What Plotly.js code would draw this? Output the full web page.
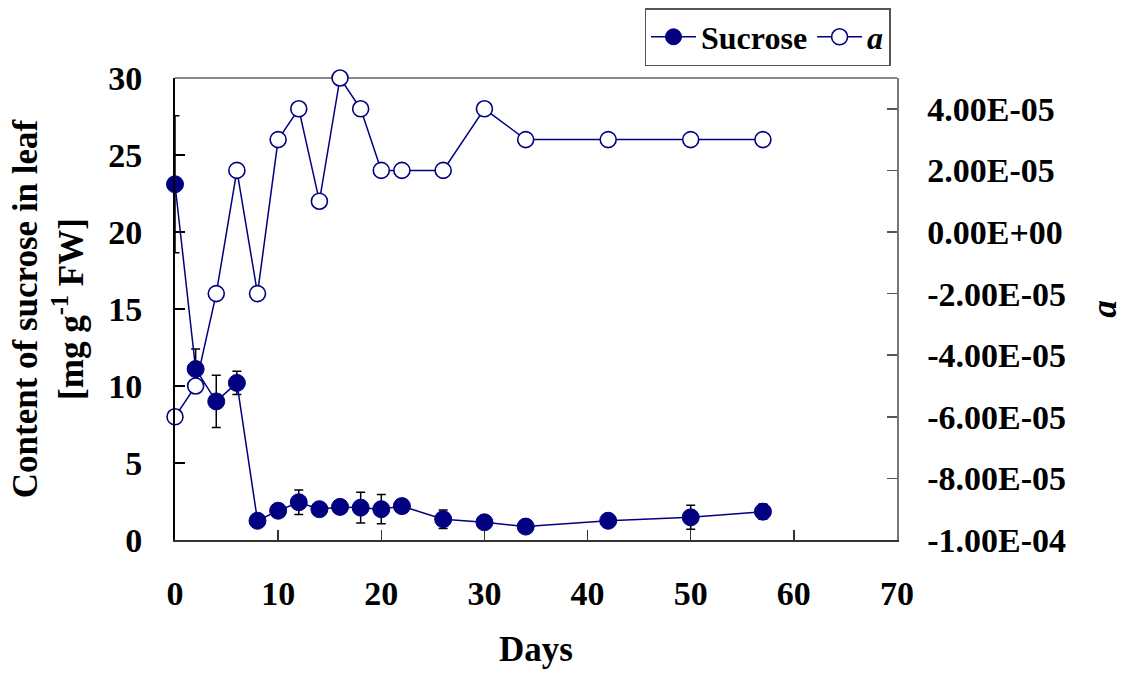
<!DOCTYPE html>
<html>
<head>
<meta charset="utf-8">
<script src="https://cdn.plot.ly/plotly-3.0.1.min.js"></script>
<style>html,body{margin:0;padding:0;background:#fff;}#chart{width:1131px;height:675px;}</style>
</head>
<body>
<div id="chart"></div>
<script>
// Data
const days = [0, 2, 4, 6, 8, 10, 12, 14, 16, 18, 20, 22, 26, 30, 34, 42, 50, 57];
const sucrose = [23.1, 11.1, 9.0, 10.2, 1.25, 1.9, 2.45, 2.0, 2.15, 2.1, 2.0, 2.2, 1.35, 1.15, 0.87, 1.25, 1.47, 1.84];
const sucroseErr = [4.45, 1.3, 1.7, 0.75, 0, 0, 0.8, 0, 0.35, 1.0, 0.95, 0, 0.6, 0, 0, 0, 0.78, 0.5];
const aValues = [-6e-5, -5e-5, -2e-5, 2e-5, -2e-5, 3e-5, 4e-5, 1e-5, 5e-5, 4e-5, 2e-5, 2e-5, 2e-5, 4e-5, 3e-5, 3e-5, 3e-5, 3e-5];
const rightTickVals = [-1e-4, -8e-5, -6e-5, -4e-5, -2e-5, 0, 2e-5, 4e-5];
const rightTickText = ['-1.00E-04', '-8.00E-05', '-6.00E-05', '-4.00E-05', '-2.00E-05', '0.00E+00', '2.00E-05', '4.00E-05'];

const navy = '#000080';
const fontFam = '"Liberation Serif", "Times New Roman", Times, serif';

const traces = [
  {
    x: days, y: sucrose, name: 'Sucrose', type: 'scatter', mode: 'lines+markers',
    line: {color: navy, width: 1.5},
    marker: {color: navy, size: 17, line: {color: navy, width: 1}},
    error_y: {type: 'data', array: sucroseErr, visible: true, color: '#000', thickness: 1.5, width: 4.5},
    xaxis: 'x', yaxis: 'y', cliponaxis: false
  },
  {
    x: days, y: aValues, name: '<i>a</i>', type: 'scatter', mode: 'lines+markers',
    line: {color: navy, width: 1.5},
    marker: {color: '#fff', size: 16, line: {color: navy, width: 1.6}},
    xaxis: 'x', yaxis: 'y2', cliponaxis: false
  }
];

const tickFont = {family: fontFam, size: 34, color: '#000', weight: 'bold'};
const titleFont = {family: fontFam, size: 35, color: '#000', weight: 'bold'};

const layout = {
  width: 1131, height: 675,
  margin: {l: 175, r: 234, t: 78, b: 135, pad: 0, autoexpand: false},
  paper_bgcolor: '#fff', plot_bgcolor: '#fff',
  showlegend: true,
  legend: {
    orientation: 'h', x: 0.991, xanchor: 'right', y: 1.1515, yanchor: 'top',
    bordercolor: '#555', borderwidth: 1.5, bgcolor: '#fff',
    font: {family: fontFam, size: 32, color: '#000', weight: 'bold'},
    itemwidth: 45, tracegroupgap: 0
  },
  xaxis: {
    range: [0, 70], tickmode: 'linear', tick0: 0, dtick: 10,
    ticks: 'inside', ticklen: 10, tickwidth: 1.5, tickcolor: '#333',
    showline: true, linecolor: '#333', linewidth: 2,
    showgrid: false, zeroline: false,
    tickfont: tickFont, ticklabelstandoff: 22,
    title: {text: 'Days', font: titleFont, standoff: 26},
    automargin: false
  },
  yaxis: {
    range: [0, 30], tickmode: 'linear', tick0: 0, dtick: 5,
    ticks: 'inside', ticklen: 10, tickwidth: 1.5, tickcolor: '#000',
    showline: true, linecolor: '#000', linewidth: 2,
    showgrid: false, zeroline: false,
    tickfont: tickFont, ticklabelstandoff: 24,
    title: {text: 'Content of sucrose in leaf<br>[mg g<sup>-1</sup> FW]', font: titleFont, standoff: 14},
    automargin: false
  },
  yaxis2: {
    overlaying: 'y', side: 'right', range: [-1e-4, 5e-5],
    tickmode: 'array', tickvals: rightTickVals, ticktext: rightTickText,
    ticks: 'inside', ticklen: 10, tickwidth: 1.5, tickcolor: '#555',
    showline: true, linecolor: '#777', linewidth: 1.5,
    showgrid: false, zeroline: false,
    tickfont: tickFont, ticklabelstandoff: 22,
    title: {text: '<i>a</i>', font: titleFont, standoff: 26},
    automargin: false
  },
  shapes: [
    {type: 'line', xref: 'paper', yref: 'paper', x0: 0, x1: 1, y0: 1, y1: 1, line: {color: '#888', width: 2}, layer: 'below'}
  ]
};

Plotly.newPlot('chart', traces, layout, {displayModeBar: false, staticPlot: true});
</script>
</body>
</html>
